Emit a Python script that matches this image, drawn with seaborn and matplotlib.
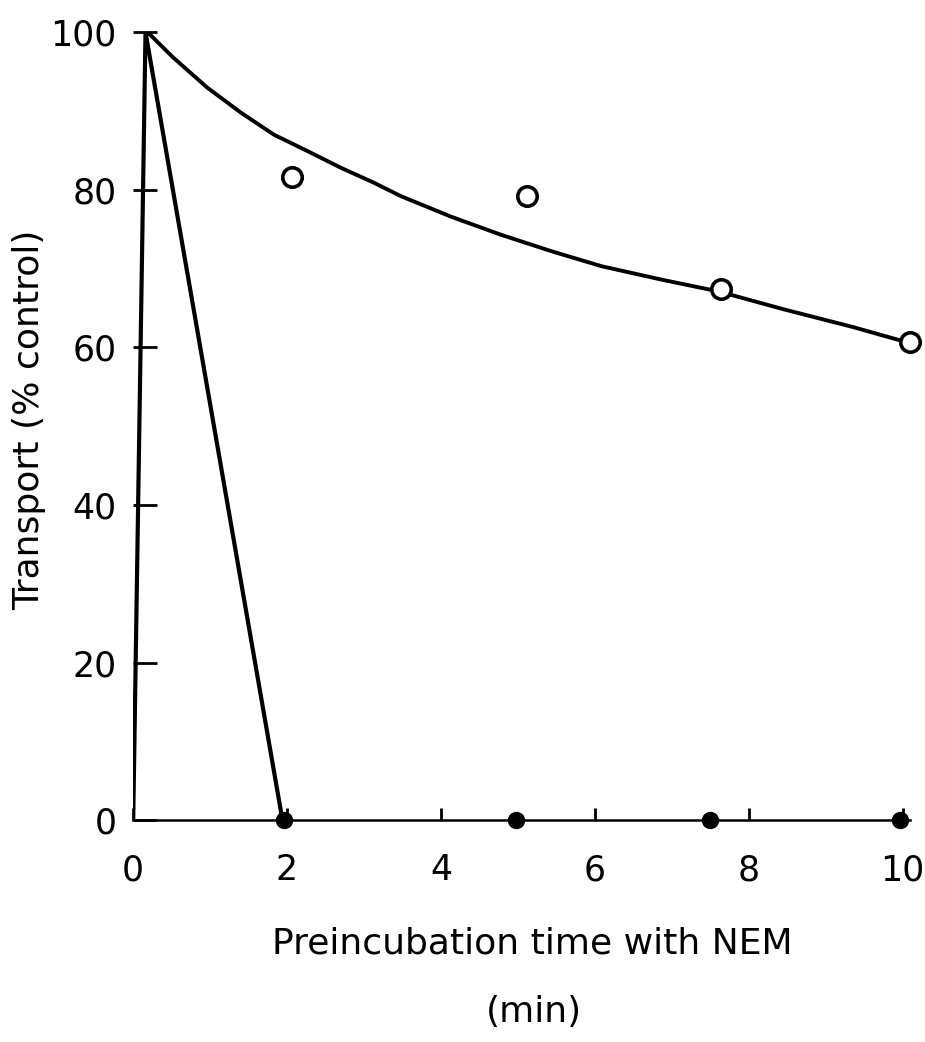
import numpy as np
import pandas as pd
import matplotlib
matplotlib.use("Agg")
import matplotlib.pyplot as plt
import seaborn as sns

# Valores
# Curva lenta (pontos abertos)
curva_lenta_x = [0.16, 0.22, 0.52, 0.96, 1.40, 1.83, 2.27, 2.70, 3.13, 3.48, 4.13, 4.78,
                 5.44, 6.09, 6.87, 7.61, 8.47, 9.35, 10.04]
curva_lenta_y = [100, 99.7, 96.8, 93.0, 89.8, 87.0, 84.9, 82.8, 80.9, 79.2, 76.6, 74.3,
                 72.2, 70.3, 68.6, 67.1, 64.8, 62.6, 60.7]
abertos_x = [2.06, 5.12, 7.64, 10.1]
abertos_y = [81.6, 79.2, 67.4, 60.7]

# Queda rápida (pontos cheios)
rapida_x = [0.0, 0.16, 1.94]
rapida_y = [0, 100, 0]
cheios_x = [1.96, 4.98, 7.5, 9.97]
cheios_y = [0, 0, 0, 0]

x_ticks = [0, 2, 4, 6, 8, 10]
y_ticks = [0, 20, 40, 60, 80, 100]

sns.set_style("white")
plt.rcParams['font.family'] = ['DejaVu Sans']
plt.rcParams['text.color'] = 'black'
plt.rcParams['xtick.color'] = 'black'
plt.rcParams['ytick.color'] = 'black'

fig = plt.figure(figsize=(9.25, 10.42), dpi=100)
ax = fig.add_axes([0.144, 0.213, 0.84, 0.756])

df_lenta = pd.DataFrame({'t': curva_lenta_x, 'v': curva_lenta_y})
df_rapida = pd.DataFrame({'t': rapida_x, 'v': rapida_y})
sns.lineplot(data=df_lenta, x='t', y='v', sort=False, color='black', linewidth=2.8, ax=ax)
sns.lineplot(data=df_rapida, x='t', y='v', sort=False, color='black', linewidth=3.0, ax=ax)

ax.plot(abertos_x, abertos_y, 'o', ms=14, mfc='white', mec='black', mew=2.6, zorder=5, clip_on=False)
ax.plot(cheios_x, cheios_y, 'o', ms=11.5, mfc='black', mec='black', zorder=5, clip_on=False)

ax.set_xlim(0, 10.1)
ax.set_ylim(0, 100)
ax.set_xticks(x_ticks)
ax.set_yticks(y_ticks)
ax.set_xlabel('')
ax.set_ylabel('')

for lado in ['top', 'right', 'left']:
    ax.spines[lado].set_visible(False)
ax.spines['bottom'].set_color('black')
ax.spines['bottom'].set_linewidth(1.8)

ax.tick_params(axis='x', direction='in', length=9, width=2, pad=24, labelsize=25)
ax.tick_params(axis='y', direction='in', length=17, width=2, pad=12, labelsize=25)
ax.tick_params(left=True, bottom=True)

fig.text(0.575, 0.095, 'Preincubation time with NEM', ha='center', va='center', fontsize=26)
fig.text(0.577, 0.029, '(min)', ha='center', va='center', fontsize=26)
fig.text(0.032, 0.597, 'Transport (% control)', ha='center', va='center', rotation=90, fontsize=26)

fig.savefig('out.png', dpi=100, facecolor='white')
